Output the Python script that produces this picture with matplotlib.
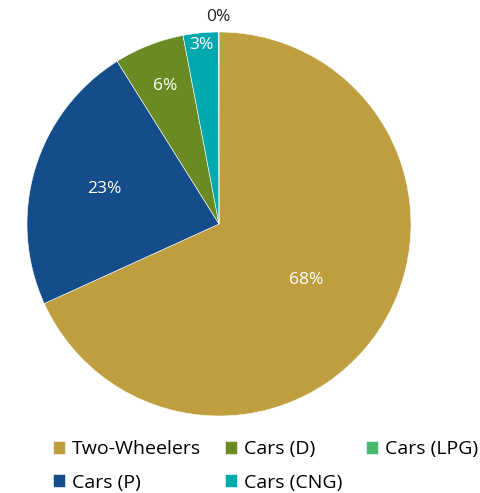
import numpy as np
import matplotlib.pyplot as plt

plt.rcParams['font.family'] = ['Open Sans', 'DejaVu Sans']

# === data ===
labels = ['Two-Wheelers', 'Cars (P)', 'Cars (D)', 'Cars (CNG)', 'Cars (LPG)']
shares = [68.2, 22.9, 5.9, 2.95, 0.05]
colors = ['#BF9E3F', '#154D8A', '#6A8A23', '#00A9AE', '#48B86B']

# label radius (fraction of pie radius) and text colour, per slice
label_r = [0.54, 0.625, 0.77, 0.935, 1.08]
label_c = ['white', 'white', 'white', 'white', '#222222']

fig = plt.figure(figsize=(4.8, 4.93), dpi=100)
ax = fig.add_axes([27 / 480, (493 - 224 - 192) / 493, 384 / 480, 384 / 493])

wedges, _ = ax.pie(shares, colors=colors, startangle=90, counterclock=False,
                   wedgeprops=dict(edgecolor='white', linewidth=0.4))
ax.set_xlim(-1, 1)
ax.set_ylim(-1, 1)
ax.set_aspect('equal')
ax.axis('off')

total = sum(shares)
for w, s, r, c in zip(wedges, shares, label_r, label_c):
    mid = np.deg2rad((w.theta1 + w.theta2) / 2)
    ax.text(r * np.cos(mid), r * np.sin(mid), f'{s / total * 100:.0f}%',
            ha='center', va='center', color=c, fontsize=12.5, clip_on=False)

fig.legend(wedges, labels, ncol=3, loc='center', bbox_to_anchor=(0.553, 0.055),
           frameon=False, fontsize=14, handlelength=0.65, handleheight=0.65,
           handletextpad=0.35, columnspacing=1.2, labelspacing=0.8)

fig.savefig('out.png', dpi=100)
